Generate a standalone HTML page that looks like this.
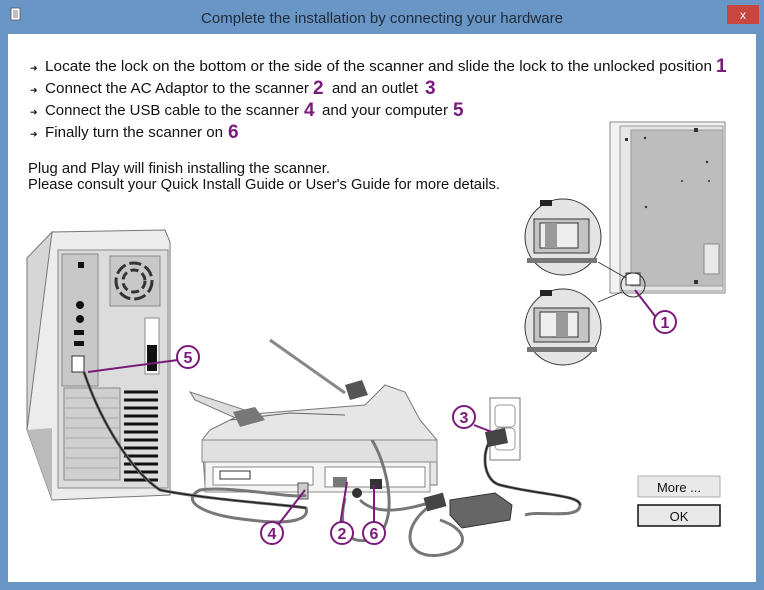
<!DOCTYPE html>
<html><head><meta charset="utf-8"><style>
html,body{margin:0;padding:0;background:#fff}
svg{display:block}
text{font-family:"Liberation Sans",sans-serif}
</style></head><body>
<svg width="764" height="590" viewBox="0 0 764 590" xmlns="http://www.w3.org/2000/svg">
<!-- frame -->
<rect x="0" y="0" width="764" height="590" fill="#6a96c5"/>
<rect x="8" y="34" width="748" height="548" fill="#fff"/>
<rect x="11" y="8" width="9" height="12" fill="#fff" stroke="#555" stroke-width="0.8"/>
<path d="M13 11h5M13 13h5M13 15h5M13 17h5" stroke="#555" stroke-width="0.7"/>
<text x="382" y="23" font-size="15" fill="#1e2a3a" text-anchor="middle" textLength="362" lengthAdjust="spacingAndGlyphs">Complete the installation by connecting your hardware</text>
<rect x="727" y="5" width="32" height="19" fill="#c7463d"/>
<text x="743" y="19" font-size="12" fill="#fff" text-anchor="middle">x</text>

<!-- instructions -->
<g font-size="15" fill="#111">
<text x="30" y="71" font-size="9">➜</text>
<text x="45" y="71" textLength="667" lengthAdjust="spacingAndGlyphs">Locate the lock on the bottom or the side of the scanner and slide the lock to the unlocked position</text>
<text x="30" y="93" font-size="9">➜</text>
<text x="45" y="93" textLength="264" lengthAdjust="spacingAndGlyphs">Connect the AC Adaptor to the scanner</text>
<text x="332" y="93" textLength="86" lengthAdjust="spacingAndGlyphs">and an outlet</text>
<text x="30" y="115" font-size="9">➜</text>
<text x="45" y="115" textLength="254" lengthAdjust="spacingAndGlyphs">Connect the USB cable to the scanner</text>
<text x="322" y="115" textLength="126" lengthAdjust="spacingAndGlyphs">and your computer</text>
<text x="30" y="137" font-size="9">➜</text>
<text x="45" y="137" textLength="178" lengthAdjust="spacingAndGlyphs">Finally turn the scanner on</text>
<text x="28" y="173" textLength="302" lengthAdjust="spacingAndGlyphs">Plug and Play will finish installing the scanner.</text>
<text x="28" y="189" textLength="472" lengthAdjust="spacingAndGlyphs">Please consult your Quick Install Guide or User's Guide for more details.</text>
</g>
<g font-size="19" font-weight="bold" fill="#7a1a7a">
<text x="716" y="72">1</text>
<text x="313" y="94">2</text>
<text x="425" y="94">3</text>
<text x="304" y="116">4</text>
<text x="453" y="116">5</text>
<text x="228" y="138">6</text>
</g>

<!-- scanner bottom view -->
<rect x="610" y="122" width="115" height="171" fill="#f2f2f2" stroke="#888"/>
<rect x="620" y="126" width="103" height="165" fill="#e6e6e6" stroke="#999"/>
<rect x="631" y="130" width="92" height="156" fill="#bdbdbd" stroke="#999"/>
<rect x="704" y="244" width="15" height="30" fill="#e8e8e8" stroke="#888"/>
<g fill="#333"><rect x="625" y="138" width="3" height="3"/><rect x="694" y="128" width="4" height="4"/><rect x="694" y="280" width="4" height="4"/><circle cx="645" cy="138" r="1.2"/><circle cx="707" cy="162" r="1.2"/><circle cx="646" cy="207" r="1.2"/><circle cx="682" cy="181" r="1"/><circle cx="709" cy="181" r="1"/></g>
<rect x="626" y="273" width="14" height="12" fill="#fff" stroke="#333"/>
<circle cx="633" cy="285" r="12" fill="none" stroke="#333"/>
<path d="M598 262L626 278M598 302L622 292" stroke="#333" stroke-width="0.8"/>
<!-- magnifier circles -->
<g>
<circle cx="563" cy="237" r="38" fill="#e4e4e4" stroke="#333"/>
<rect x="534" y="219" width="55" height="34" fill="#c4c4c4" stroke="#333"/>
<rect x="540" y="223" width="38" height="25" fill="#eee" stroke="#333"/>
<rect x="545" y="223" width="12" height="25" fill="#999"/>
<rect x="527" y="258" width="70" height="5" fill="#777"/>
<path d="M540 206h12v-6h-12z" fill="#222"/>
<circle cx="563" cy="327" r="38" fill="#e4e4e4" stroke="#333"/>
<rect x="534" y="308" width="55" height="34" fill="#c4c4c4" stroke="#333"/>
<rect x="540" y="312" width="38" height="25" fill="#eee" stroke="#333"/>
<rect x="556" y="312" width="12" height="25" fill="#999"/>
<rect x="527" y="347" width="70" height="5" fill="#777"/>
<path d="M540 296h12v-6h-12z" fill="#222"/>
</g>

<!-- computer tower -->
<path d="M27 258L52 232L52 428L27 430Z" fill="#d6d6d6" stroke="#777"/>
<path d="M52 232L165 230L170 242L170 495L52 500L27 430Z" fill="#ececec" stroke="#777"/>
<path d="M27 430L52 500L52 428Z" fill="#bbb"/>
<rect x="58" y="250" width="110" height="238" fill="#dcdcdc" stroke="#888"/>
<rect x="62" y="254" width="36" height="132" fill="#c8c8c8" stroke="#888"/>
<rect x="110" y="256" width="50" height="50" fill="#c8c8c8" stroke="#888"/>
<circle cx="134" cy="281" r="18" fill="none" stroke="#333" stroke-width="3" stroke-dasharray="12 4"/>
<circle cx="134" cy="281" r="11" fill="none" stroke="#333" stroke-width="3" stroke-dasharray="8 4"/>
<rect x="145" y="318" width="14" height="56" fill="#fff" stroke="#888"/>
<rect x="147" y="345" width="10" height="26" fill="#111"/>
<g fill="#111"><circle cx="80" cy="305" r="4"/><circle cx="80" cy="319" r="4"/><rect x="74" y="330" width="10" height="5"/><rect x="74" y="341" width="10" height="5"/><rect x="78" y="262" width="6" height="6"/></g>
<rect x="72" y="356" width="12" height="16" fill="#fff" stroke="#333"/>
<rect x="64" y="388" width="56" height="92" fill="#cfcfcf" stroke="#888"/>
<g stroke="#aaa"><path d="M64 398h56M64 408h56M64 418h56M64 428h56M64 438h56M64 448h56M64 458h56M64 468h56"/></g>
<g stroke="#111" stroke-width="3"><path d="M124 392h34M124 400h34M124 408h34M124 416h34M124 424h34M124 432h34M124 440h34M124 448h34M124 456h34M124 464h34M124 472h34M124 480h34"/></g>

<!-- scanner -->
<path d="M270 340L345 393" stroke="#888" stroke-width="3"/>
<path d="M345 385L362 380L368 395L350 400Z" fill="#555"/>
<path d="M190 392L195 400L240 420L260 415Z" fill="#ddd" stroke="#777"/>
<path d="M210 430L240 415L365 405L375 395L385 385L405 392L420 420L437 440L437 485L205 485L202 440Z" fill="#e6e6e6" stroke="#777"/>
<path d="M230 420L290 413L345 415" stroke="#666" fill="none"/>
<path d="M233 412L255 407L265 420L240 427Z" fill="#777"/>
<rect x="202" y="440" width="235" height="22" fill="#e0e0e0" stroke="#888"/>
<rect x="205" y="462" width="225" height="30" fill="#f4f4f4" stroke="#888"/>
<rect x="213" y="467" width="100" height="18" fill="#fff" stroke="#888"/>
<rect x="220" y="471" width="30" height="8" fill="#fff" stroke="#333"/>
<rect x="325" y="467" width="100" height="20" fill="#fff" stroke="#888"/>
<rect x="333" y="477" width="14" height="10" fill="#777"/>
<rect x="370" y="479" width="12" height="10" fill="#333"/>
<circle cx="357" cy="493" r="5" fill="#333"/>
<rect x="298" y="483" width="10" height="16" fill="#ccc" stroke="#555"/>

<!-- cables -->
<g fill="none" stroke="#777" stroke-width="3">
<path d="M84 372C100 420 130 470 160 490C210 500 290 505 306 508C310 520 290 525 250 520C200 515 180 500 200 490C230 485 300 500 306 495"/>
<path d="M372 440C390 470 400 530 370 540C340 545 340 520 345 498"/>
<path d="M360 500C380 520 420 505 440 500"/>
<path d="M440 500C400 520 400 560 440 555C470 550 470 530 440 520"/>
<path d="M500 432C480 440 480 480 500 485C540 495 580 495 580 505C580 520 540 510 525 515"/>
</g>
<g stroke="#222" stroke-width="1.5" fill="none">
<path d="M84 372C100 420 130 470 160 490C210 500 290 505 306 508"/>
<path d="M500 432C480 440 480 480 500 485C540 495 580 495 580 505"/>
</g>
<path d="M450 500L495 493L512 505L510 520L462 528L450 515Z" fill="#666" stroke="#333"/>
<rect x="425" y="495" width="20" height="14" fill="#444" transform="rotate(-15 435 502)"/>

<!-- outlet -->
<rect x="490" y="398" width="30" height="62" fill="#fff" stroke="#777"/>
<rect x="495" y="405" width="20" height="22" fill="#fff" stroke="#999" rx="4"/>
<rect x="495" y="428" width="20" height="22" fill="#fff" stroke="#999" rx="4"/>
<path d="M485 432L505 428L508 443L488 447Z" fill="#444"/>

<!-- callouts -->
<g stroke="#7a1a7a" stroke-width="2" fill="none">
<path d="M635 290L655 316"/>
<path d="M88 372L178 360"/>
<path d="M474 425L492 432"/>
<path d="M305 490L278 525"/>
<path d="M347 482L340 525"/>
<path d="M374 485L374 525"/>
</g>
<g fill="#fff" stroke="#7a1a7a" stroke-width="2">
<circle cx="665" cy="322" r="11"/><circle cx="188" cy="357" r="11"/><circle cx="464" cy="417" r="11"/>
<circle cx="272" cy="533" r="11"/><circle cx="342" cy="533" r="11"/><circle cx="374" cy="533" r="11"/>
</g>
<g font-size="16" font-weight="bold" fill="#7a1a7a" text-anchor="middle">
<text x="665" y="328">1</text><text x="188" y="363">5</text><text x="464" y="423">3</text>
<text x="272" y="539">4</text><text x="342" y="539">2</text><text x="374" y="539">6</text>
</g>

<!-- buttons -->
<rect x="638" y="476" width="82" height="21" fill="#e9e9e9" stroke="#adadad"/>
<text x="679" y="492" font-size="13" text-anchor="middle" fill="#111">More ...</text>
<rect x="638" y="505" width="82" height="21" fill="#e9e9e9" stroke="#111" stroke-width="1.5"/>
<text x="679" y="521" font-size="13" text-anchor="middle" fill="#111">OK</text>
</svg>
</body></html>
